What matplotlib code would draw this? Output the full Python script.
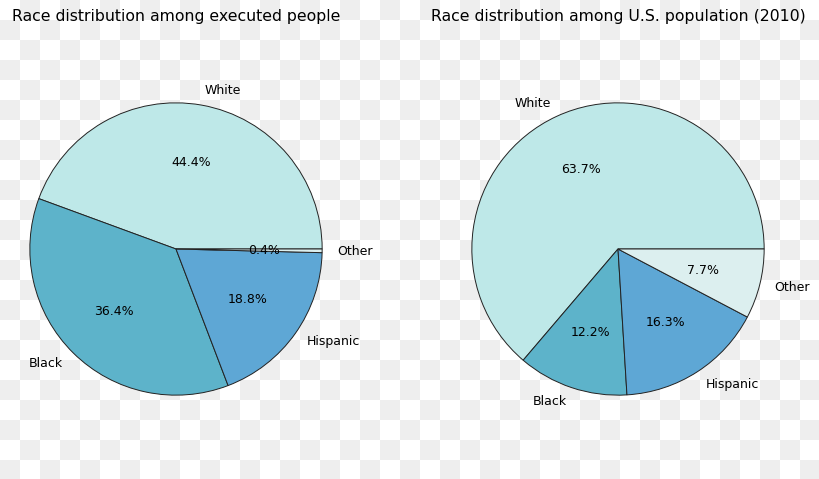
import numpy as np
import matplotlib
matplotlib.use("Agg")
import matplotlib.pyplot as plt

labels = ["White", "Black", "Hispanic", "Other"]
executed = [44.4, 36.4, 18.8, 0.4]
population = [63.7, 12.2, 16.3, 7.7]
colors = ["#bee8e8", "#5db3ca", "#5ea7d5", "#dcefef"]
titles = ["Race distribution among executed people",
          "Race distribution among U.S. population (2010)"]

W, H = 820, 479
fig = plt.figure(figsize=(W / 100, H / 100), dpi=100)

# checkerboard background (transparent png look), 20 px squares
yy, xx = np.indices((H, W))
light = ((yy // 20 + xx // 20) % 2 == 0)
img = np.where(light[..., None], 1.0, 0.935) * np.ones((H, W, 3))
fig.figimage(img, 0, 0, origin="upper", zorder=-10)


def pct_labels(vals):
    it = iter(vals)
    return lambda p: "{:.1f}%".format(next(it))


centers = [176, 618]
size = 380
for cx, vals, title in zip(centers, [executed, population], titles):
    ax = fig.add_axes([(cx - size / 2) / W, (H - 249 - size / 2) / H, size / W, size / H])
    ax.patch.set_visible(False)
    ax.pie(vals, labels=labels, colors=colors, autopct=pct_labels(vals), startangle=0,
           wedgeprops=dict(edgecolor="#222222", linewidth=0.7),
           textprops=dict(fontsize=9))
    ax.set_xlim(-1.3, 1.3)
    ax.set_ylim(-1.3, 1.3)
    ax.set_aspect("equal")
    ax.axis("off")
    fig.text(cx / W, 1 - 17 / H, title, ha="center", va="center", fontsize=11.3)

fig.savefig("out.png", dpi=100)
